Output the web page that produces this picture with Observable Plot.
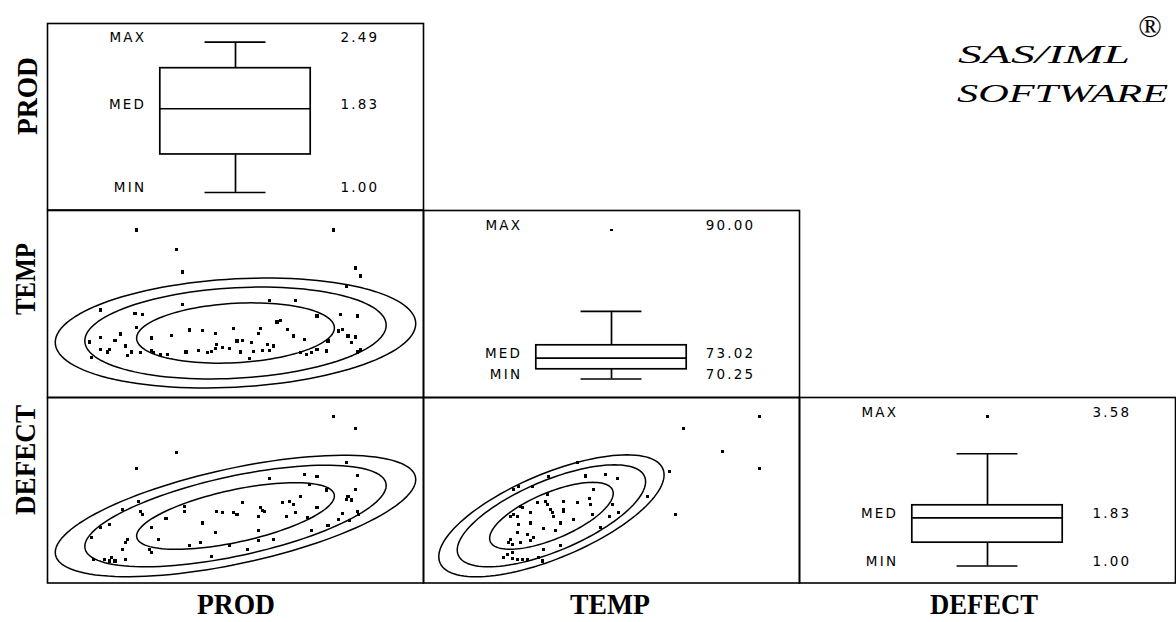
<!DOCTYPE html>
<html><head><meta charset="utf-8">
<script src="https://cdn.jsdelivr.net/npm/d3@7"></script>
<script src="https://cdn.jsdelivr.net/npm/@observablehq/plot@0.6"></script>
<style>
html,body{margin:0;padding:0;background:#fff;}
#chart{position:relative;width:1176px;height:622px;overflow:hidden;background:#fff;}
</style></head><body><div id="chart"></div>
<script>
// ---------------- DATA ----------------
const variables = ["PROD", "TEMP", "DEFECT"];
const statLabels = ["MAX", "MED", "MIN"];

// box-plot summaries (diagonal panels), in variable order
const boxMin   = [1.00, 70.25, 1.00];
const boxQ1    = [1.377, 71.54, 1.403];
const boxMed   = [1.83, 73.02, 1.83];
const boxQ3    = [2.232, 74.72, 2.049];
const boxUpper = [2.49, 79.22, 2.94];   // end of upper whisker
const boxMax   = [2.49, 90.00, 3.58];

// prediction-ellipse levels
const ellipseLevels = [0.5, 0.8, 0.9];

// bivariate summaries for each scatter panel: [meanX, meanY, sdX, sdY, corr]
const ellProdTemp   = [1.802, 74.23, 0.4615, 3.92, 0.17];
const ellProdDefect = [1.802, 1.805, 0.4615, 0.506, 0.60];
const ellTempDefect = [73.95, 1.808, 4.05, 0.508, 0.67];

// observations: [PROD, TEMP]
const prodVsTemp = [
 [1.26,90.00],[2.34,90.00],[1.48,87.04],[1.51,83.57],[2.46,84.18],[2.49,82.96],[2.41,81.43],
 [1.51,78.62],[1.99,79.24],[2.13,79.24],[1.06,77.75],[1.25,77.19],[1.29,77.09],[2.25,76.83],
 [2.38,77.09],[2.47,76.83],[2.05,76.17],[2.03,75.91],[1.26,75.04],[1.79,74.95],[1.55,74.69],
 [1.62,74.64],[1.69,74.12],[1.45,73.88],[1.34,73.47],[1.17,74.08],[1.06,73.51],[1.14,73.11],
 [1.00,72.85],[1.94,74.89],[1.93,74.12],[2.09,74.80],[2.12,73.77],[2.18,73.27],[2.37,74.54],
 [2.39,74.80],[2.42,73.77],[2.46,73.62],[2.44,72.75],[2.31,73.01],[1.81,73.01],[1.84,73.11],
 [1.89,72.75],[1.98,72.50],[2.01,72.24],[1.70,72.50],[1.69,71.83],[1.77,71.83],[1.20,72.24],
 [1.11,71.74],[1.10,71.32],[1.06,71.74],[1.23,71.32],[1.28,71.21],[1.34,71.58],[1.35,71.21],
 [1.39,70.97],[1.43,70.97],[1.53,71.32],[1.60,71.58],[1.65,71.21],[1.67,71.37],[1.73,71.98],
 [1.83,71.32],[1.90,71.37],[1.95,71.58],[1.99,71.58],[1.88,70.30],[2.16,71.21],[2.19,70.97],
 [2.22,71.21],[2.25,71.74],[2.30,71.47],[2.49,71.63],[2.47,71.32],[1.01,70.45],[1.21,70.82]
];
// observations: [PROD, DEFECT]
const prodVsDefect = [
 [2.34,3.58],[2.46,3.37],[1.48,2.94],[1.26,2.66],[2.41,2.76],[1.99,2.47],[2.18,2.54],[2.25,2.51],
 [2.47,2.53],[2.21,2.36],[2.30,2.27],[2.46,2.28],[2.42,2.16],[2.44,2.09],[2.41,2.10],[2.16,2.16],
 [2.06,2.04],[2.10,2.07],[2.12,2.01],[1.84,2.04],[1.94,1.95],[1.95,1.91],[1.96,1.88],[1.70,1.89],
 [1.73,1.86],[1.79,1.86],[1.81,1.83],[1.52,1.98],[1.52,1.88],[2.13,1.86],[2.08,1.80],[1.93,1.80],
 [2.25,1.95],[2.20,1.77],[2.39,1.85],[2.47,1.88],[2.48,1.83],[2.43,1.72],[2.37,1.75],[2.31,1.63],
 [1.27,2.07],[1.28,1.89],[1.29,1.83],[1.18,1.92],[1.42,1.76],[1.62,1.68],[1.34,1.60],[1.69,1.51],
 [1.93,1.54],[2.01,1.39],[1.93,1.36],[1.77,1.27],[1.87,1.21],[1.61,1.33],[1.55,1.27],[1.38,1.39],
 [1.11,1.66],[1.06,1.60],[1.01,1.42],[1.20,1.33],[1.21,1.38],[1.18,1.20],[1.33,1.21],[1.34,1.15],
 [1.67,1.08],[1.02,1.02],[1.08,1.02],[1.11,1.00],[1.12,1.06],[1.14,1.00],[1.20,1.03],[2.22,1.54]
];
// observations: [TEMP, DEFECT]
const tempVsDefect = [
 [90.00,3.58],[84.16,3.37],[87.12,2.95],[90.00,2.66],[83.08,2.60],[83.52,1.83],[81.34,2.16],
 [76.58,2.52],[78.12,2.55],[79.07,2.48],[75.94,2.76],[73.74,2.51],[72.46,2.34],[71.04,2.28],
 [71.43,2.34],[77.22,2.28],[73.62,2.19],[73.49,2.07],[73.62,2.01],[72.85,2.04],[71.56,1.98],
 [71.69,1.95],[74.90,2.07],[75.94,2.04],[76.91,2.11],[76.96,2.01],[78.64,2.01],[74.86,1.92],
 [74.86,1.88],[73.88,1.92],[74.01,1.86],[74.13,1.80],[72.33,1.86],[71.04,1.83],[71.31,1.80],
 [70.79,1.79],[77.09,1.83],[78.45,1.80],[79.15,1.86],[75.67,1.75],[74.65,1.68],[72.33,1.68],
 [71.43,1.66],[73.36,1.58],[74.26,1.55],[71.31,1.51],[72.08,1.48],[72.59,1.42],[70.79,1.39],
 [70.66,1.33],[70.92,1.30],[71.56,1.33],[72.33,1.36],[74.65,1.28],[73.36,1.21],[70.27,1.06],
 [70.58,1.12],[70.92,1.15],[70.92,1.04],[71.31,1.03],[71.69,1.02],[72.08,1.03],[72.97,1.06],
 [73.24,1.00],[77.73,1.60]
];

// ---------------- LAYOUT ----------------
const colX = [47, 423, 799], colW = 376;
const rowY = [23, 209.5, 396.5], rowH = [186.5, 187, 185.5];
const boxDomain = [[0.8265, 2.675], [67.80, 92.585], [0.706, 3.912]];
const scatterXDomain = {PROD: [0.769, 2.835], TEMP: [64.08, 93.09]};
const scatterYDomain = {TEMP: [64.36, 92.98], DEFECT: [0.607, 3.923]};

const chart = document.getElementById("chart");
const panelStyle = {overflow: "visible", background: "transparent", position: "absolute"};
const ink = "#000";
const statFont = "'DejaVu Sans', sans-serif";

function place(svg, c, r) {
  svg.style.position = "absolute";
  svg.style.left = colX[c] + "px";
  svg.style.top = rowY[r] + "px";
  svg.style.maxWidth = "none";
  chart.appendChild(svg);
}

function boxPanel(i) {
  const stats = [
    {label: statLabels[0], value: boxMax[i]},
    {label: statLabels[1], value: boxMed[i]},
    {label: statLabels[2], value: boxMin[i]}
  ];
  const box = [{q1: boxQ1[i], q3: boxQ3[i]}];
  const whiskers = [{a: boxQ3[i], b: boxUpper[i]}, {a: boxMin[i], b: boxQ1[i]}];
  const caps = [boxUpper[i], boxMin[i]];
  const outliers = boxMax[i] > boxUpper[i] ? [boxMax[i]] : [];
  const svg = Plot.plot({
    width: colW, height: rowH[i], margin: 0,
    x: {domain: [-1, 1], axis: null},
    y: {domain: boxDomain[i], axis: null},
    style: {...panelStyle, letterSpacing: "2.2px"},
    marks: [
      Plot.frame({stroke: ink, strokeWidth: 1.6}),
      Plot.rect(box, {x1: () => -0.4, x2: () => 0.4, y1: "q1", y2: "q3", fill: "none", stroke: ink, strokeWidth: 1.7}),
      Plot.ruleY([boxMed[i]], {x1: () => -0.4, x2: () => 0.4, stroke: ink, strokeWidth: 1.7}),
      Plot.ruleX(whiskers, {x: () => 0, y1: "a", y2: "b", stroke: ink, strokeWidth: 1.7}),
      Plot.ruleY(caps, {x1: () => -0.162, x2: () => 0.162, stroke: ink, strokeWidth: 1.7}),
      Plot.dot(outliers, {x: () => 0, y: d => d, symbol: "square", r: 1.4, fill: ink, stroke: null, shapeRendering: "crispEdges"}),
      Plot.text(stats, {x: () => -0.475, y: "value", text: "label", textAnchor: "end", lineAnchor: "bottom",
        fontFamily: statFont, fontSize: 13.5, fill: ink}),
      Plot.text(stats, {x: () => 0.765, y: "value", text: d => d.value.toFixed(2), textAnchor: "end", lineAnchor: "bottom",
        fontFamily: statFont, fontSize: 13.5, fill: ink})
    ]
  });
  place(svg, i, i);
}

function ellipsePoints(p) {
  const [mx, my, sx, sy, rho] = p;
  const out = [];
  const n = 120;
  for (const level of ellipseLevels) {
    const r = Math.sqrt(-2 * Math.log(1 - level));
    for (let k = 0; k < n; k++) {
      const t = 2 * Math.PI * k / n;
      out.push({
        level,
        x: mx + r * sx * Math.cos(t),
        y: my + r * sy * (rho * Math.cos(t) + Math.sqrt(1 - rho * rho) * Math.sin(t))
      });
    }
  }
  return out;
}

function scatterPanel(c, r, pts, ell) {
  const svg = Plot.plot({
    width: colW, height: rowH[r], margin: 0,
    x: {domain: scatterXDomain[variables[c]], axis: null},
    y: {domain: scatterYDomain[variables[r]], axis: null},
    style: panelStyle,
    marks: [
      Plot.frame({stroke: ink, strokeWidth: 1.6}),
      Plot.line(ellipsePoints(ell), {x: "x", y: "y", z: "level", curve: "linear-closed", stroke: ink, strokeWidth: 1.5}),
      Plot.dot(pts, {x: d => d[0], y: d => d[1], symbol: "square", r: 1.75, fill: ink, stroke: null, shapeRendering: "crispEdges"})
    ]
  });
  place(svg, c, r);
}

boxPanel(0); boxPanel(1); boxPanel(2);
scatterPanel(0, 1, prodVsTemp, ellProdTemp);
scatterPanel(0, 2, prodVsDefect, ellProdDefect);
scatterPanel(1, 2, tempVsDefect, ellTempDefect);

// ---------------- LABELS ----------------
const overlay = d3.select(chart).append("svg")
  .attr("width", 1176).attr("height", 622)
  .style("position", "absolute").style("left", "0px").style("top", "0px")
  .style("pointer-events", "none");

const labelFont = "'Liberation Serif', 'Times New Roman', serif";
const rowLabelPos = [[36.5, 96, 78], [35, 279, 72], [35, 460, 110]];
const colLabelPos = [[236, 614, 78], [610, 614, 80], [984, 614, 108]];

variables.forEach((v, i) => {
  const [x, y, len] = rowLabelPos[i];
  overlay.append("text")
    .attr("transform", `translate(${x},${y}) rotate(-90)`)
    .attr("text-anchor", "middle")
    .attr("font-family", labelFont).attr("font-weight", "bold").attr("font-size", 29)
    .attr("textLength", len).attr("lengthAdjust", "spacingAndGlyphs")
    .text(v);
  const [cx, cy, clen] = colLabelPos[i];
  overlay.append("text")
    .attr("x", cx).attr("y", cy)
    .attr("text-anchor", "middle")
    .attr("font-family", labelFont).attr("font-weight", "bold").attr("font-size", 29)
    .attr("textLength", clen).attr("lengthAdjust", "spacingAndGlyphs")
    .text(v);
});

overlay.append("text").attr("x", 958).attr("y", 63)
  .attr("font-family", labelFont).attr("font-style", "italic").attr("font-size", 25)
  .attr("textLength", 172).attr("lengthAdjust", "spacingAndGlyphs").text("SAS/IML");
overlay.append("text").attr("x", 1150).attr("y", 37).attr("text-anchor", "middle")
  .attr("font-family", labelFont).attr("font-size", 31).text("®");
overlay.append("text").attr("x", 957).attr("y", 102)
  .attr("font-family", labelFont).attr("font-style", "italic").attr("font-size", 25)
  .attr("textLength", 211).attr("lengthAdjust", "spacingAndGlyphs").text("SOFTWARE");
</script>
</body></html>
